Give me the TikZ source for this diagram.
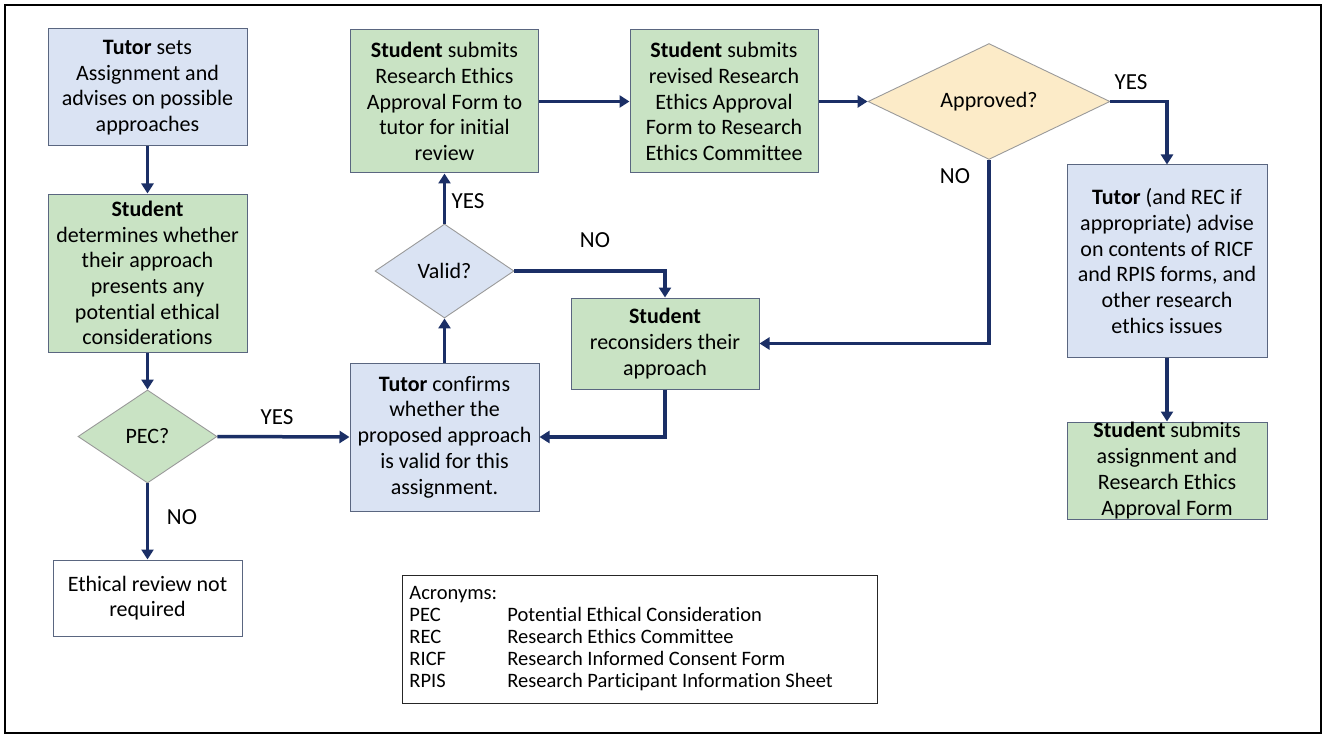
\documentclass[tikz,border=0pt]{standalone}
\usepackage{fontspec}
\setmainfont{Carlito}[Ligatures=NoCommon]
\usetikzlibrary{shapes.geometric,arrows.meta}
\definecolor{bluefill}{HTML}{DAE3F3}
\definecolor{greenfill}{HTML}{C9E3C4}
\definecolor{yellowfill}{HTML}{FCEBC8}
\definecolor{boxline}{HTML}{5A6680}
\definecolor{dialine}{HTML}{9A9A9A}
\definecolor{navy}{HTML}{1B2F66}
\begin{document}
\begin{tikzpicture}[x=1pt,y=-1pt,
  box/.style={draw=boxline,line width=1pt,inner sep=0pt,align=center,font=\fontsize{22}{25.7}\selectfont},
  bbox/.style={box,fill=bluefill},
  gbox/.style={box,fill=greenfill},
  wbox/.style={box,fill=white},
  dia/.style={diamond,draw=dialine,line width=0.9pt,inner sep=0pt,font=\fontsize{22}{25.7}\selectfont},
  conn/.style={draw=navy,line width=3.5pt,-{Triangle[length=10pt,width=12pt]}},
  lbl/.style={font=\fontsize{23}{26}\selectfont}]

\useasboundingbox (0,0) rectangle (1324,738);
\draw[line width=2pt] (5,5) rectangle (1321,733);

% left column
\node[bbox,minimum width=199pt,minimum height=117pt] (tsets) at (147.5,87.5)
  {\textbf{Tutor} sets\\Assignment and\\advises on possible\\approaches};
\node[gbox,minimum width=199pt,minimum height=158pt] (sdet) at (147.5,273)
  {\textbf{Student}\\determines whether\\their approach\\presents any\\potential ethical\\considerations};
\node[dia,fill=greenfill,minimum width=139pt,minimum height=93pt] (pec) at (147.5,436.5) {PEC?};
\node[wbox,minimum width=189pt,minimum height=76pt] (ethic) at (147.5,598)
  {Ethical review not\\required};

% middle
\node[bbox,minimum width=189pt,minimum height=148pt] (tconf) at (444.5,437)
  {\textbf{Tutor} confirms\\whether the\\proposed approach\\is valid for this\\assignment.};
\node[dia,fill=bluefill,minimum width=139pt,minimum height=94pt] (valid) at (444.5,271) {Valid?};
\node[gbox,minimum width=188pt,minimum height=143pt] (ssub1) at (444.5,101.5)
  {\textbf{Student} submits\\Research Ethics\\Approval Form to\\tutor for initial\\review};
\node[gbox,minimum width=188pt,minimum height=143pt] (ssub2) at (724,101.5)
  {\textbf{Student} submits\\revised Research\\Ethics Approval\\Form to Research\\Ethics Committee};
\node[gbox,minimum width=188pt,minimum height=91pt] (srec) at (665,343.5)
  {\textbf{Student}\\reconsiders their\\approach};

% right
\node[dia,fill=yellowfill,minimum width=242pt,minimum height=93pt] (appr) at (989,101.5) {Approved?};
\node[bbox,minimum width=200pt,minimum height=192pt] (trec) at (1167,261)
  {\textbf{Tutor} (and REC if\\appropriate) advise\\on contents of RICF\\and RPIS forms, and\\other research\\ethics issues};
\node[gbox,minimum width=200pt,minimum height=97pt] (sfin) at (1167,470.5)
  {\textbf{Student} submits\\assignment and\\Research Ethics\\Approval Form};

% acronyms
\node[draw=black!85,line width=0.9pt,anchor=north west,inner xsep=7pt,inner ysep=9pt,
  font=\fontsize{20.5}{22}\selectfont] (acr) at (402,575)
  {\begin{tabular}{@{}p{98pt}@{}p{363pt}@{}}
   \multicolumn{2}{@{}l@{}}{Acronyms:}\\
   PEC & Potential Ethical Consideration\\
   REC & Research Ethics Committee\\
   RICF & Research Informed Consent Form\\
   RPIS & Research Participant Information Sheet
   \end{tabular}};

% connectors
\draw[conn] (tsets.south) -- (sdet.north);
\draw[conn] (sdet.south) -- (pec.north);
\draw[conn] (pec.east) -- (tconf.west);
\draw[conn] (pec.south) -- (ethic.north);
\draw[conn] (tconf.north) -- (valid.south);
\draw[conn] (valid.north) -- (ssub1.south);
\draw[conn] (ssub1.east) -- (ssub2.west);
\draw[conn] (ssub2.east) -- (appr.west);
\draw[conn] (valid.east) -| (srec.north);
\draw[conn] (srec.south) |- (tconf.east);
\draw[conn] (appr.south) |- (srec.east);
\draw[conn] (appr.east) -| (trec.north);
\draw[conn] (trec.south) -- (sfin.north);

% labels
\node[lbl] (l1) at (277,417) {YES};
\node[lbl] (l2) at (182,517) {NO};
\node[lbl] (l3) at (468,201) {YES};
\node[lbl] (l4) at (595,240) {NO};
\node[lbl] (l5) at (955,176) {NO};
\node[lbl] (l6) at (1131,82) {YES};
\end{tikzpicture}
\end{document}
